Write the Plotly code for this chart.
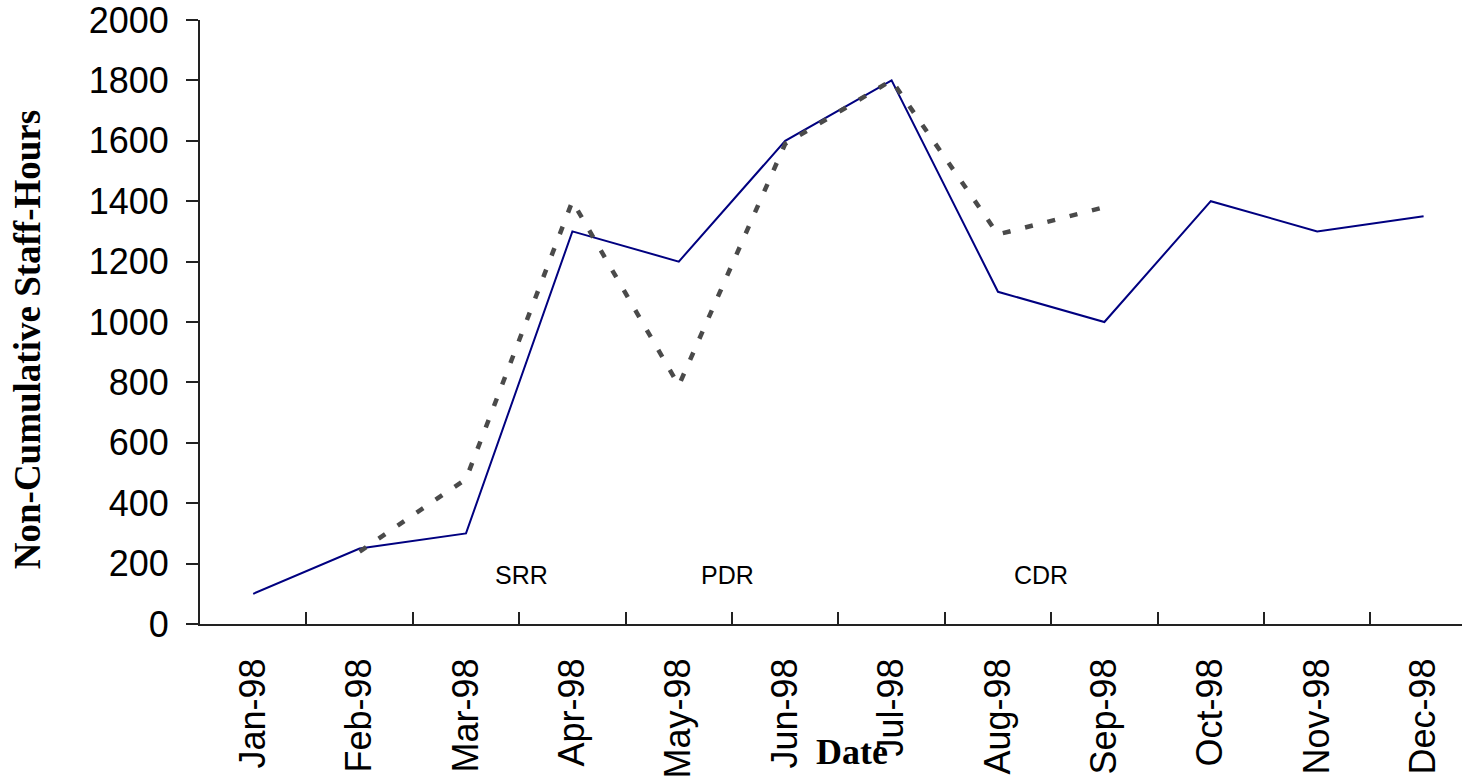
import plotly.graph_objects as go

# Monthly staff-hours (non-cumulative)
months = ["Jan-98", "Feb-98", "Mar-98", "Apr-98", "May-98", "Jun-98",
          "Jul-98", "Aug-98", "Sep-98", "Oct-98", "Nov-98", "Dec-98"]
planned_hours = [100, 250, 300, 1300, 1200, 1600, 1800, 1100, 1000, 1400, 1300, 1350]
actual_months = ["Feb-98", "Mar-98", "Apr-98", "May-98", "Jun-98", "Jul-98", "Aug-98", "Sep-98"]
actual_hours = [240, 480, 1400, 790, 1590, 1800, 1290, 1380]

# Review milestones
milestones = ["SRR", "PDR", "CDR"]

SANS = "Liberation Sans, Arial, sans-serif"
SERIF = "Liberation Serif, Times New Roman, serif"

fig = go.Figure()
fig.add_trace(go.Scatter(
    x=months, y=planned_hours, mode="lines",
    line=dict(color="#000080", width=2),
    showlegend=False, hoverinfo="x+y",
))
fig.add_trace(go.Scatter(
    x=actual_months, y=actual_hours, mode="lines",
    line=dict(color="#4a4a4a", width=4.5, dash="8px,15px"),
    showlegend=False, hoverinfo="x+y",
))

# milestone labels sit just above the x axis, between months
milestone_x = [2.52, 4.46, 7.40]
for name, xpos in zip(milestones, milestone_x):
    fig.add_annotation(x=xpos, y=162, xref="x", yref="y", text=name,
                       showarrow=False, font=dict(family=SANS, size=25, color="black"))

fig.add_annotation(x=-0.137, y=0.47, xref="paper", yref="paper",
                   xanchor="center", yanchor="middle",
                   text="<b>Non-Cumulative Staff-Hours</b>", textangle=-90,
                   showarrow=False, font=dict(family=SERIF, size=37, color="black"))
fig.add_annotation(x=0.517, y=-0.212, xref="paper", yref="paper",
                   xanchor="center", yanchor="middle",
                   text="<b>Date</b>", showarrow=False,
                   font=dict(family=SERIF, size=36, color="black"))

fig.update_layout(
    width=1462, height=781,
    margin=dict(l=200, r=0, t=20, b=157, autoexpand=False),
    paper_bgcolor="white", plot_bgcolor="white",
    xaxis=dict(
        type="category", categoryorder="array", categoryarray=months,
        range=[-0.5, 11.361], automargin=False,
        tickson="boundaries", ticks="inside", ticklen=12, tickwidth=2, tickcolor="#222",
        showline=True, linecolor="#222", linewidth=2,
        showgrid=False, zeroline=False,
        tickangle=-90, ticklabelstandoff=18, ticklabeloverflow="allow",
        tickfont=dict(family=SANS, size=36, color="black"),
    ),
    yaxis=dict(
        range=[0, 2000], tickmode="linear", tick0=0, dtick=200, automargin=False,
        ticks="outside", ticklen=12, tickwidth=2, tickcolor="#222",
        showline=True, linecolor="#222", linewidth=2,
        showgrid=False, zeroline=False,
        ticklabelstandoff=10, ticklabeloverflow="allow",
        tickfont=dict(family=SANS, size=36, color="black"),
    ),
)

fig.write_html("out.html")
